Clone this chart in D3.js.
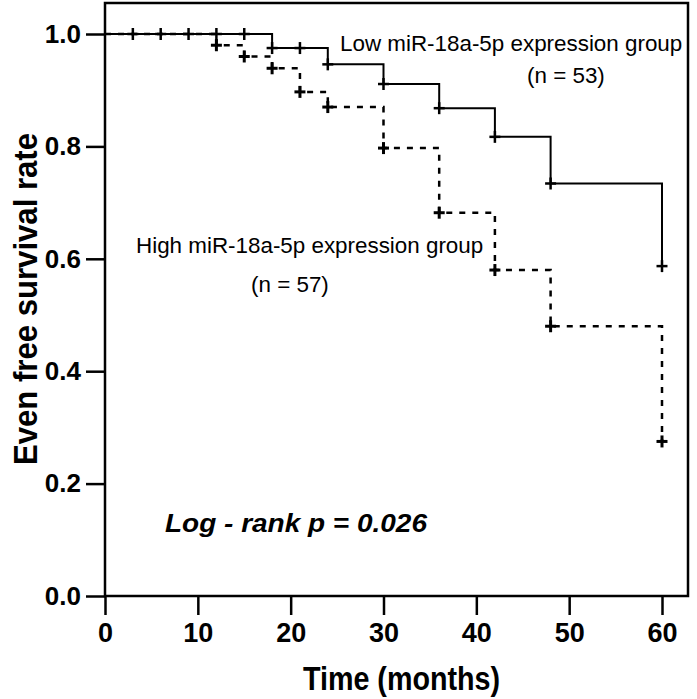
<!DOCTYPE html>
<html>
<head>
<meta charset="utf-8">
<script src="https://cdn.jsdelivr.net/npm/d3@7/dist/d3.min.js"></script>
<style>
  html, body { margin: 0; padding: 0; background: #fff; }
  svg { display: block; }
  text { font-family: "Liberation Sans", Arial, sans-serif; fill: #000; }
</style>
</head>
<body>
<svg id="chart" width="697" height="699"></svg>
<script>
// ---- data ----
const lowTimes    = [0, 18, 24, 30, 36, 42, 48, 60];
const lowSurv     = [1.0, 0.975, 0.946, 0.911, 0.868, 0.817, 0.734, 0.587];
const lowCensor   = [3, 6, 9, 12, 15, 18, 21, 24, 30, 36, 42, 48, 60];

const highTimes   = [0, 12, 15, 18, 21, 24, 30, 36, 42, 48, 60];
const highSurv    = [1.0, 0.980, 0.960, 0.939, 0.897, 0.870, 0.797, 0.682, 0.580, 0.480, 0.275];
const highCensor  = [12, 15, 18, 21, 24, 30, 36, 42, 48, 60];

const xTicks = [0, 10, 20, 30, 40, 50, 60];
const yTicks = [0.0, 0.2, 0.4, 0.6, 0.8, 1.0];

const lowLabel  = ["Low miR-18a-5p expression group", "(n = 53)"];
const highLabel = ["High miR-18a-5p expression group", "(n = 57)"];
const pLabel    = "Log - rank p = 0.026";
const xTitle    = "Time (months)";
const yTitle    = "Even free survival rate";

// ---- layout ----
const svg = d3.select("#chart");
const x = d3.scaleLinear().domain([0, 60]).range([105, 662]);
const y = d3.scaleLinear().domain([0, 1]).range([596, 34]);
const frame = {left: 105, top: 3, right: 688, bottom: 596};

// frame
svg.append("rect")
  .attr("x", frame.left).attr("y", frame.top)
  .attr("width", frame.right - frame.left).attr("height", frame.bottom - frame.top)
  .attr("fill", "none").attr("stroke", "#000").attr("stroke-width", 2.5);

// axes
const xAxis = d3.axisBottom(x).tickValues(xTicks).tickSize(19).tickPadding(8).tickSizeOuter(0)
  .tickFormat(d3.format("d"));
const gx = svg.append("g").attr("transform", `translate(0,${frame.bottom})`).call(xAxis);
gx.select(".domain").remove();
gx.selectAll(".tick line").attr("stroke", "#000").attr("stroke-width", 2.5);
gx.selectAll(".tick text").style("font-size", "27px").style("font-weight", "bold")
  .style("font-family", "'Liberation Sans', Arial, sans-serif");

const yAxis = d3.axisLeft(y).tickValues(yTicks).tickSize(19).tickPadding(5).tickSizeOuter(0)
  .tickFormat(d3.format(".1f"));
const gy = svg.append("g").attr("transform", `translate(${frame.left},0)`).call(yAxis);
gy.select(".domain").remove();
gy.selectAll(".tick line").attr("stroke", "#000").attr("stroke-width", 2.5);
gy.selectAll(".tick text").style("font-size", "26px").style("font-weight", "bold")
  .style("font-family", "'Liberation Sans', Arial, sans-serif");

// step curves
function stepPoints(times, surv) {
  const pts = times.map((t, i) => [t, surv[i]]);
  return pts;
}
function survAt(times, surv, t) {
  let v = surv[0];
  for (let i = 0; i < times.length; i++) if (times[i] <= t) v = surv[i];
  return v;
}
const line = d3.line().x(d => x(d[0])).y(d => y(d[1])).curve(d3.curveStepAfter);

// high group (dashed)
svg.append("path").datum(stepPoints(highTimes, highSurv))
  .attr("d", line).attr("fill", "none").attr("stroke", "#000")
  .attr("stroke-width", 2.5).attr("stroke-dasharray", "6,7");

// low group (solid)
svg.append("path").datum(stepPoints(lowTimes, lowSurv))
  .attr("d", line).attr("fill", "none").attr("stroke", "#000")
  .attr("stroke-width", 2);

// censor marks
function drawCensor(times, surv, censor, sw) {
  const g = svg.append("g");
  censor.forEach(t => {
    const cx = x(t), cy = y(survAt(times, surv, t));
    g.append("line").attr("x1", cx - 5.5).attr("x2", cx + 5.5).attr("y1", cy).attr("y2", cy)
      .attr("stroke", "#000").attr("stroke-width", sw);
    g.append("line").attr("x1", cx).attr("x2", cx).attr("y1", cy - 6).attr("y2", cy + 6)
      .attr("stroke", "#000").attr("stroke-width", sw);
  });
}
drawCensor(highTimes, highSurv, highCensor, 3);
drawCensor(lowTimes, lowSurv, lowCensor, 2.5);

// annotations
svg.append("text").attr("x", 340).attr("y", 51).style("font-size", "22.4px").text(lowLabel[0]);
svg.append("text").attr("x", 527).attr("y", 83).style("font-size", "22.4px").text(lowLabel[1]);
svg.append("text").attr("x", 136).attr("y", 253).style("font-size", "22.4px").text(highLabel[0]);
svg.append("text").attr("x", 251).attr("y", 292).style("font-size", "22.4px").text(highLabel[1]);

svg.append("text").attr("x", 165).attr("y", 532)
  .style("font-size", "26px").style("font-weight", "bold").style("font-style", "italic")
  .attr("textLength", 262).attr("lengthAdjust", "spacingAndGlyphs")
  .text(pLabel);

// axis titles
svg.append("text").attr("x", 303).attr("y", 690)
  .style("font-size", "34px").style("font-weight", "bold")
  .attr("textLength", 197).attr("lengthAdjust", "spacingAndGlyphs")
  .text(xTitle);

svg.append("text")
  .attr("transform", "translate(37,465) rotate(-90)")
  .style("font-size", "33px").style("font-weight", "bold")
  .attr("textLength", 332).attr("lengthAdjust", "spacingAndGlyphs")
  .text(yTitle);
</script>
</body>
</html>
